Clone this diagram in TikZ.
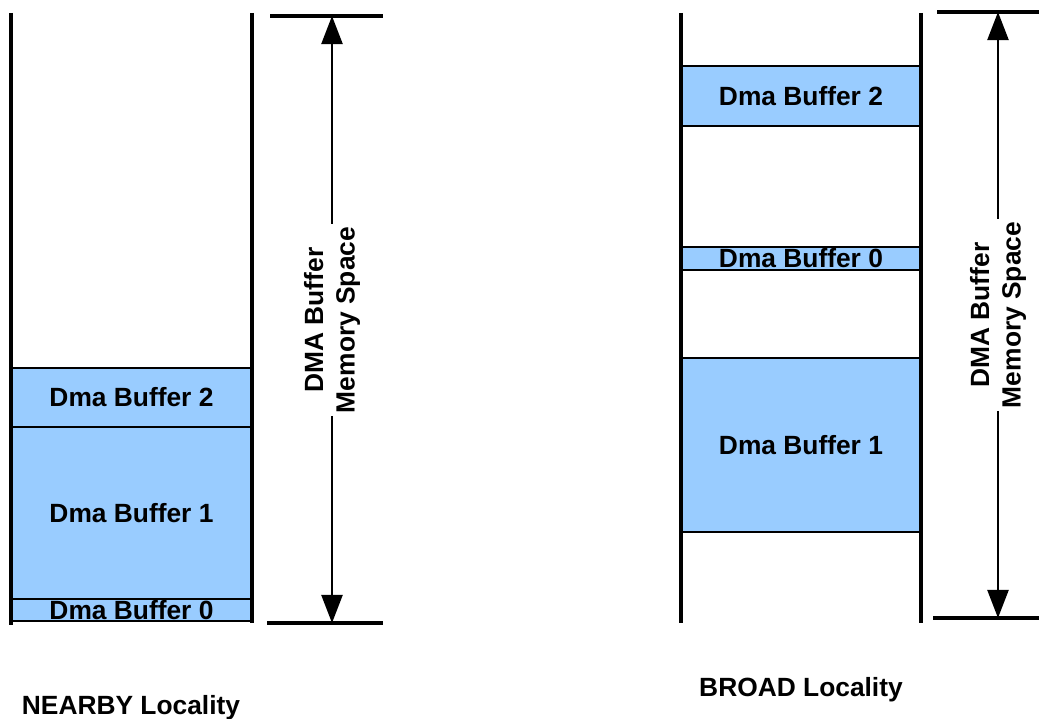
\documentclass[tikz,border=0pt]{standalone}
\usepackage{fontspec}
\setmainfont{Liberation Sans}
\usetikzlibrary{arrows.meta}
\definecolor{bufBlue}{HTML}{99CCFF}

\begin{document}
\begin{tikzpicture}[x=0.02cm, y=-0.02cm, font=\fontsize{15}{18}\selectfont\bfseries,
                    bufStyle/.style={rectangle, draw, line width=1.5pt, fill=bufBlue, inner sep=0pt},
                    wallStyle/.style={line width=2pt},
                    limitStyle/.style={line width=2pt},
                    spanStyle/.style={line width=1.3pt, -{Triangle[length=16pt, width=12pt]}},
                    spanLabel/.style={rotate=90, align=center, inner sep=1.5pt}]
                    \useasboundingbox (0,0) rectangle (1039,719);

                    % NEARBY
                    \node[bufStyle, minimum width=4.82cm, minimum height=1.18cm] (near_2) at (131.5,397.5) {Dma Buffer 2};
                    \node[bufStyle, minimum width=4.82cm, minimum height=3.44cm] (near_1) at (131.5,513)   {Dma Buffer 1};
                    \node[bufStyle, minimum width=4.82cm, minimum height=0.44cm] (near_0) at (131.5,610)   {Dma Buffer 0};

                    \draw[wallStyle] (11,13) -- (11,625);
                    \draw[wallStyle] (252,13) -- (252,623);

                    \draw[limitStyle] (270,16) -- (383,16);
                    \draw[limitStyle] (267,623) -- (383,623);
                    \coordinate (near_top) at (332,16);
                    \coordinate (near_bot) at (332,623);

                    \node[spanLabel] (near_lbl) at (332,320) {DMA Buffer\\Memory Space};
                    \draw[spanStyle] (near_lbl.east) -- (near_top);
                    \draw[spanStyle] (near_lbl.west) -- (near_bot);

                    \node (near_name) at (131,708) {NEARBY Locality};

                    % BROAD
                    \node[bufStyle, minimum width=4.8cm, minimum height=1.2cm]  (broad_2) at (801,96)    {Dma Buffer 2};
                    \node[bufStyle, minimum width=4.8cm, minimum height=0.46cm] (broad_0) at (801,258.5) {Dma Buffer 0};
                    \node[bufStyle, minimum width=4.8cm, minimum height=3.48cm] (broad_1) at (801,445)   {Dma Buffer 1};

                    \draw[wallStyle] (681,13) -- (681,623);
                    \draw[wallStyle] (921,13) -- (921,623);

                    \draw[limitStyle] (937,12) -- (1039,12);
                    \draw[limitStyle] (933,618) -- (1039,618);
                    \coordinate (broad_top) at (998,12);
                    \coordinate (broad_bot) at (998,618);

                    \node[spanLabel] (broad_lbl) at (998,315) {DMA Buffer\\Memory Space};
                    \draw[spanStyle] (broad_lbl.east) -- (broad_top);
                    \draw[spanStyle] (broad_lbl.west) -- (broad_bot);

                    \node (broad_name) at (801,690) {BROAD Locality};
                \end{tikzpicture}
\end{document}
